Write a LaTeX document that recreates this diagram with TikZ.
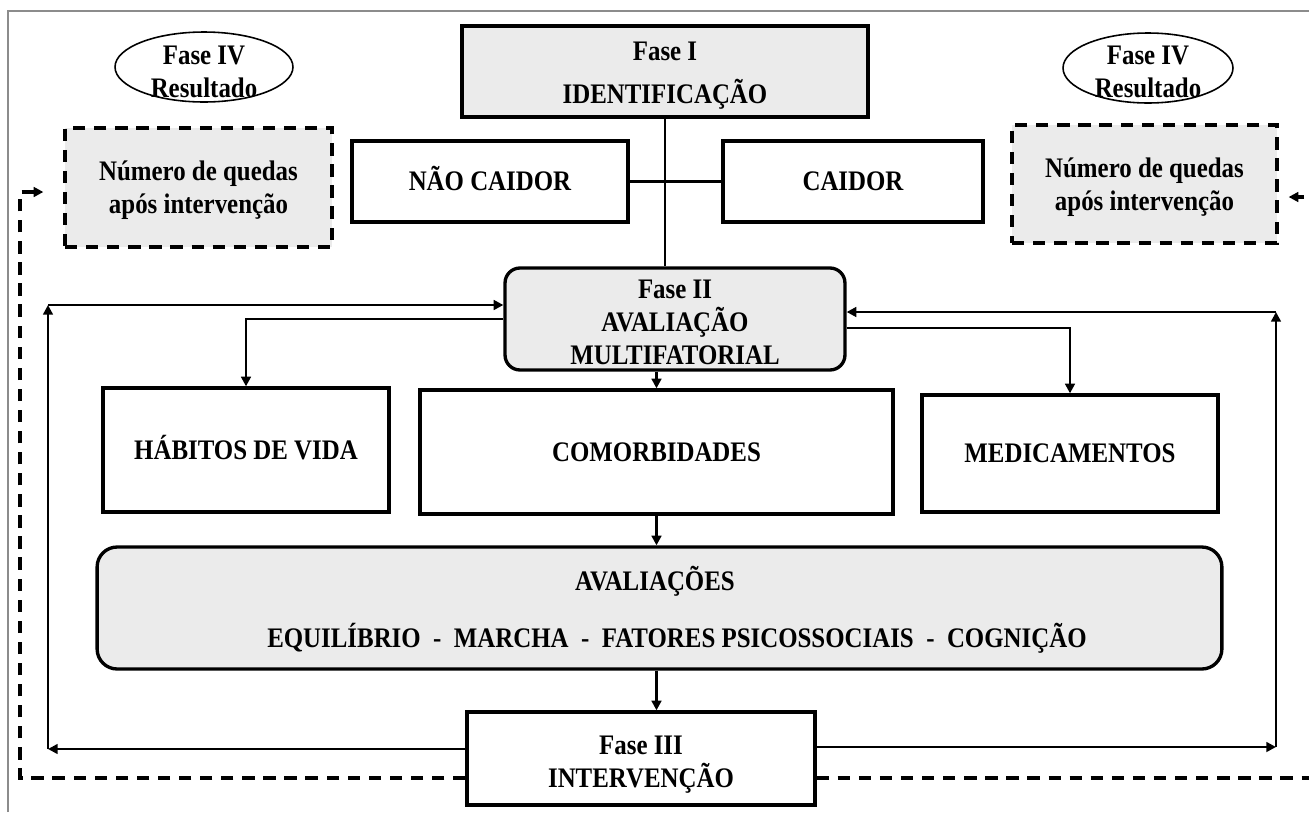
\documentclass[tikz,border=0pt]{standalone}
\usepackage{fontspec}
\setmainfont{Liberation Serif}[FakeStretch=0.88]
\usepackage{tikz}
\usetikzlibrary{arrows.meta,shapes.geometric}
\tikzset{
	txt/.style={font=\bfseries\fontsize{16.1}{18.8}\selectfont, align=center, inner sep=0pt},
	oneline/.style={text height=10.7pt, text depth=0pt},
	plainbox/.style={txt, draw, line width=1.9pt},
	greybox/.style={plainbox, fill=black!8},
	roundbox/.style={greybox, rounded corners=0.3cm},
	fallbox/.style={txt, draw, fill=black!8, line width=1.9pt, dash pattern=on 7pt off 5pt},
	resellipse/.style={draw, ellipse, line width=0.9pt, inner sep=0pt},
	arr/.style={line width=1.5pt, -{Triangle[length=5.5pt,width=5.5pt]}},
	dsh/.style={line width=2pt, dash pattern=on 7pt off 5pt},
}
\newcommand{\lift}[1]{\rule{0pt}{#1}}

\begin{document}
\begin{tikzpicture}[x=0.02cm, y=-0.02cm]
			%%%%% START %%%%%
			\useasboundingbox (0, 0) rectangle (1309, 812);
			\draw[black!45, line width=0.6pt] (8, 812) -- (8, 11) -- (1309, 11);
			
			\node[greybox, minimum width=8.12cm, minimum height=1.82cm] (fase1) at (665, 71.5) {\lift{15.8pt}Fase I\\[5.7pt]IDENTIFICAÇÃO};
			\node[plainbox, oneline, minimum width=5.52cm, minimum height=1.62cm] (naocaidor) at (490, 181.5) {NÃO CAIDOR};
			\node[plainbox, oneline, minimum width=5.2cm, minimum height=1.62cm] (caidor) at (853, 181.5) {CAIDOR};
			
			\node[resellipse, minimum width=3.56cm, minimum height=1.4cm] (res1) at (204, 67) {};
			\node[txt] (res1txt) at (204, 71.5) {Fase IV\\Resultado};
			\node[resellipse, minimum width=3.4cm, minimum height=1.4cm] (res2) at (1148, 68) {};
			\node[txt] (res2txt) at (1148, 71.5) {Fase IV\\Resultado};
			
			\node[fallbox, minimum width=5.34cm, minimum height=2.38cm] (quedas1) at (198.5, 187.5) {\lift{14.5pt}Número de quedas\\após intervenção};
			\node[fallbox, minimum width=5.3cm, minimum height=2.36cm] (quedas2) at (1144.5, 184) {\lift{14.5pt}Número de quedas\\após intervenção};
			
			\node[roundbox, minimum width=6.8cm, minimum height=2.04cm] (fase2) at (675, 319) {\lift{14pt}Fase II\\AVALIAÇÃO\\MULTIFATORIAL};
			
			\node[plainbox, oneline, minimum width=5.72cm, minimum height=2.48cm] (habitos) at (246, 450) {HÁBITOS DE VIDA};
			\node[plainbox, oneline, minimum width=9.46cm, minimum height=2.48cm] (comorb) at (656.5, 452) {COMORBIDADES};
			\node[plainbox, oneline, minimum width=5.92cm, minimum height=2.34cm] (medic) at (1070, 453.5) {MEDICAMENTOS};
			
			\node[roundbox, rounded corners=0.4cm, minimum width=22.5cm, minimum height=2.44cm] (aval) at (659.5, 608) {};
			\node[txt, anchor=base] (avaltitle) at (655, 590) {AVALIAÇÕES};
			\node[txt, anchor=base] (avallist) at (677, 647) {EQUILÍBRIO~~-~~MARCHA~~-~~FATORES PSICOSSOCIAIS~~-~~COGNIÇÃO};
			
			\node[plainbox, minimum width=6.96cm, minimum height=1.86cm] (fase3) at (641, 758.5) {\lift{17.5pt}Fase III\\INTERVENÇÃO};
			
			% fase I
			\draw[line width=1.5pt] (fase1.south) -- (fase1.south |- fase2.north);
			\draw[line width=1.5pt] (naocaidor.east) -- (caidor.west);
			
			% fase II
			\draw[arr] (fase2.west) -| (habitos.north);
			\draw[arr] ([yshift=-0.18cm]fase2.east) -| (medic.north);
			\draw[arr] (fase2.south -| comorb.north) -- (comorb.north);
			\draw[arr] (comorb.south) -- (comorb.south |- aval.north);
			\draw[arr] (aval.south -| comorb.south) -- (comorb.south |- fase3.north);
			
			% retorno
			\coordinate (lbot) at (48, 749);
			\coordinate (ltop) at (48, 305);
			\coordinate (rbot) at (1276, 747);
			\coordinate (rtop) at (1276, 312);
			\draw[arr] (fase3.west |- lbot) -- (lbot);
			\draw[arr] (lbot) -- (ltop);
			\draw[arr] (ltop) -- (ltop -| fase2.west);
			\draw[arr] (fase3.east |- rbot) -- (rbot);
			\draw[arr] (rbot) -- (rtop);
			\draw[arr] (rtop) -- (rtop -| fase2.east);
			
			% fase IV
			\coordinate (dlb) at (20, 778);
			\coordinate (dlt) at (20, 192);
			\coordinate (drb) at (1318, 778);
			\coordinate (drt) at (1318, 197);
			\begin{scope}
				\clip (0, 0) rectangle (1309, 812);
				\draw[dsh, -{Triangle[length=5.5pt,width=5.5pt]}, shorten >=0.4cm] (fase3.west |- dlb) -- (dlb) -- (dlt) -- (dlt -| quedas1.west);
				\draw[dsh, -{Triangle[length=5.5pt,width=5.5pt]}, shorten >=0.2cm] (fase3.east |- drb) -- (drb) -- (drt) -- (drt -| quedas2.east);
			\end{scope}
			
			%%%%% END %%%%%
		\end{tikzpicture}
\end{document}
